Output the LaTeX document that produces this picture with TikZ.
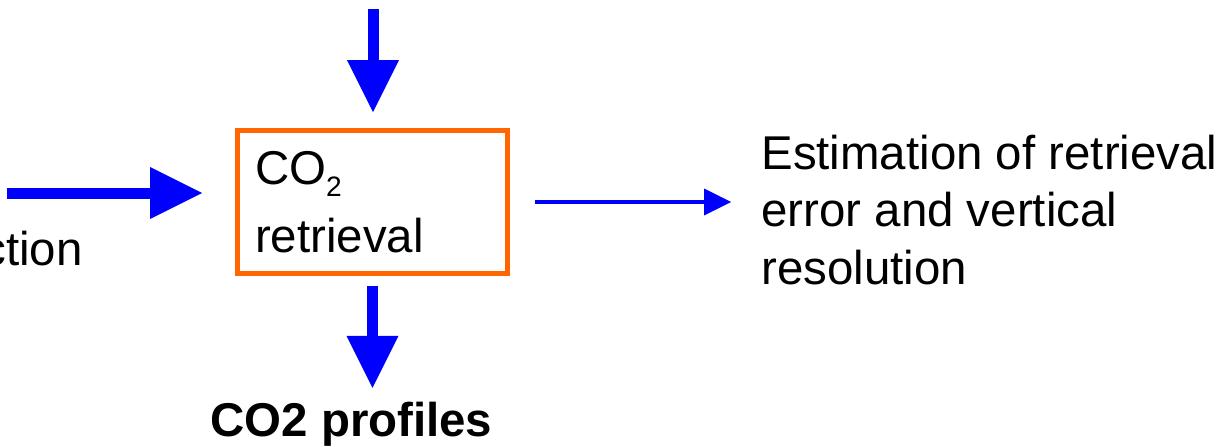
\documentclass[tikz,border=0pt]{standalone}
\usepackage{fontspec}
\setmainfont{Liberation Sans}
\usetikzlibrary{arrows.meta}
\definecolor{ptrblue}{RGB}{0,0,255}
\definecolor{boxorange}{RGB}{255,102,0}

\begin{document}
\begin{tikzpicture}[x=0.02cm, y=-0.02cm]
  \newcommand\bigheadsize{1.04cm}
  \newcommand\smallheadsize{0.54cm}

  \tikzset{lbl/.style={inner sep=0, font=\fontsize{27pt}{32.7pt}\selectfont}}
  \tikzset{bigptr/.style={ptrblue, line width=0.22cm, -{Triangle[width=\bigheadsize, length=\bigheadsize, line width=0pt]}}}
  \tikzset{thinptr/.style={ptrblue, line width=0.08cm, -{Triangle[width=\smallheadsize, length=\smallheadsize, line width=0pt]}}}
  \tikzset{retrbox/.style={lbl, draw=boxorange, line width=0.1cm, align=left,
      font=\fontsize{27pt}{38.7pt}\selectfont, text width=4.7cm, inner xsep=0.35cm,
      minimum width=5.4cm, minimum height=2.86cm}}

  \useasboundingbox (0,0) rectangle (1229,446);

  % retrieval box
  \node[retrbox] at (372.5,202) (retr)
    {CO\raisebox{-0.25em}{\fontsize{16pt}{16pt}\selectfont 2}\\retrieval};

  % texts round it
  \node[lbl, anchor=base east] at (83,265) (sel) {ction};
  \node[lbl, align=left, anchor=base west] at (761,284) (est)
    {Estimation of retrieval\\error and vertical\\resolution};
  \node[lbl, font=\fontsize{27pt}{32.7pt}\selectfont\bfseries, anchor=base west] at (210,436) (prof)
    {CO2 profiles};

  % inputs
  \coordinate (topin) at (373,9);
  \coordinate (leftin) at (7,193);
  \draw[bigptr, shorten >=0.32cm] (topin) -- (topin |- retr.north);
  \draw[bigptr, shorten >=0.66cm] (leftin) -- (leftin -| retr.west);

  % outputs
  \draw[thinptr, shorten <=0.5cm, shorten >=0.6cm] (retr.east) -- (retr.east -| est.west);
  \draw[bigptr, shorten <=0.2cm, shorten >=0.27cm] (retr.south) -- (retr.south |- prof.north);
\end{tikzpicture}
\end{document}
